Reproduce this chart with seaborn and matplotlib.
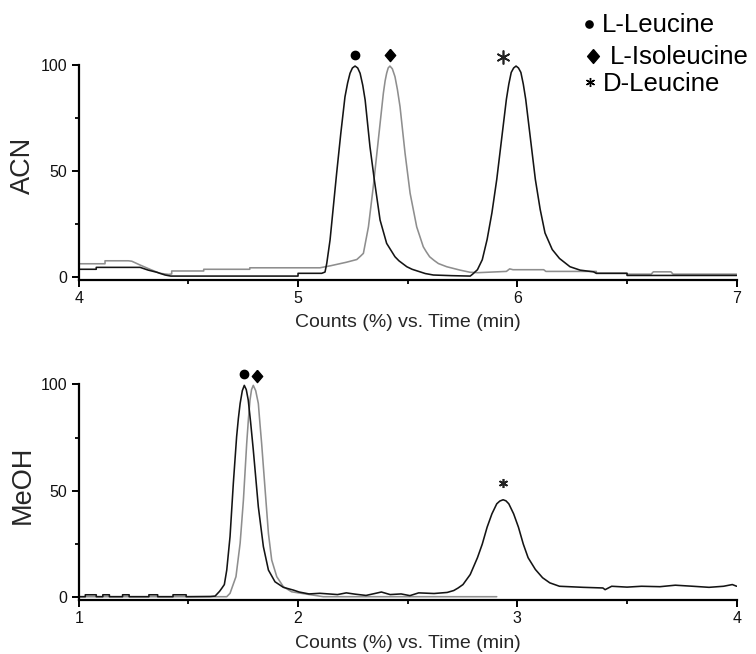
import numpy as np
import pandas as pd
import matplotlib
matplotlib.use("Agg")
import matplotlib.pyplot as plt
from matplotlib.ticker import MultipleLocator
import seaborn as sns

# ---------------- data ----------------
# ACN panel: black trace (L-Leucine + D-Leucine)
acn_black_t = [4.00, 4.08, 4.08, 4.28, 4.317, 4.356, 4.394, 4.42, 5.00, 5.00, 5.108, 5.123,
               5.131, 5.146, 5.161, 5.176, 5.195, 5.214, 5.226, 5.237, 5.248, 5.26, 5.272,
               5.283, 5.295, 5.306, 5.328, 5.348, 5.374, 5.404, 5.442, 5.46, 5.496, 5.52,
               5.556, 5.58, 5.617, 5.70, 5.785, 5.796, 5.818, 5.84, 5.862, 5.884, 5.906,
               5.928, 5.95, 5.961, 5.972, 5.983, 5.994, 6.005, 6.016, 6.027, 6.038, 6.06,
               6.082, 6.104, 6.126, 6.159, 6.192, 6.24, 6.286, 6.347, 6.36, 6.50, 6.50, 7.00]
acn_black_y = [3.8, 3.8, 4.7, 4.7, 3.4, 2.4, 1.1, 0.6, 0.6, 1.9, 1.9, 2.5,
               6.6, 17.6, 33.3, 49.0, 67.8, 85.0, 91.5, 96.1, 98.6, 99.5, 98.6,
               96.1, 90.5, 83.5, 61.5, 45.8, 27.0, 16.0, 9.7, 7.8, 5.0, 3.8,
               2.6, 1.8, 1.1, 0.8, 0.6, 1.5, 3.6, 8.3, 17.8, 30.4, 46.1,
               65.0, 83.9, 91.0, 96.5, 98.6, 99.5, 98.6, 96.5, 91.0, 83.9, 65.0,
               46.1, 32.0, 20.9, 13.1, 8.9, 5.0, 3.4, 2.6, 1.9, 1.9, 0.9, 0.9]

# ACN panel: gray trace (L-Isoleucine)
acn_gray_t = [4.00, 4.12, 4.12, 4.226, 4.242, 4.28, 4.325, 4.37, 4.41, 4.424, 4.424, 4.57,
              4.57, 4.78, 4.78, 5.10, 5.15, 5.22, 5.268, 5.285, 5.298, 5.321, 5.343, 5.366,
              5.389, 5.397, 5.404, 5.411, 5.419, 5.43, 5.442, 5.453, 5.465, 5.488, 5.511,
              5.541, 5.571, 5.585, 5.60, 5.62, 5.64, 5.678, 5.739, 5.784, 5.82, 5.95, 5.965,
              5.98, 6.12, 6.13, 6.36, 6.36, 6.50, 6.50, 6.61, 6.62, 6.70, 6.71, 7.00]
acn_gray_y = [6.4, 6.4, 7.8, 7.8, 7.6, 5.8, 3.8, 1.9, 1.4, 1.6, 3.0, 3.0,
              3.8, 3.8, 4.5, 4.5, 5.5, 7.1, 8.4, 10.0, 11.3, 23.8, 42.7, 64.7,
              86.7, 92.5, 96.1, 98.6, 99.5, 98.2, 94.5, 88.5, 80.4, 58.4, 39.6,
              23.8, 14.4, 12.0, 9.7, 8.0, 6.5, 5.0, 3.4, 2.4, 2.2, 2.8, 4.0,
              3.6, 3.6, 2.8, 2.8, 1.9, 1.9, 1.5, 1.5, 2.6, 2.6, 1.5, 1.5]

# MeOH panel: black trace
meoh_black_t = [1.00, 1.03, 1.03, 1.08, 1.08, 1.11, 1.11, 1.14, 1.14, 1.20, 1.20, 1.23, 1.23,
                1.32, 1.32, 1.36, 1.36, 1.43, 1.43, 1.49, 1.49, 1.60, 1.622, 1.642, 1.652,
                1.664, 1.675, 1.69, 1.705, 1.72, 1.728, 1.736, 1.746, 1.755, 1.764, 1.773,
                1.784, 1.796, 1.819, 1.842, 1.865, 1.895, 1.933, 1.979, 2.005, 2.05, 2.10,
                2.18, 2.22, 2.26, 2.31, 2.35, 2.38, 2.42, 2.47, 2.51, 2.55, 2.62, 2.68, 2.71,
                2.73, 2.752, 2.785, 2.818, 2.84, 2.862, 2.884, 2.906, 2.92, 2.935, 2.948,
                2.961, 2.983, 3.005, 3.027, 3.049, 3.082, 3.115, 3.148, 3.192, 3.30, 3.39,
                3.40, 3.43, 3.50, 3.566, 3.65, 3.72, 3.80, 3.874, 3.94, 3.98, 4.00]
meoh_black_y = [0.3, 0.3, 1.2, 1.2, 0.3, 0.3, 1.2, 1.2, 0.3, 0.3, 1.2, 1.2, 0.3,
                0.3, 1.2, 1.2, 0.3, 0.3, 1.2, 1.2, 0.3, 0.4, 0.6, 2.8, 4.2,
                6.0, 12.8, 28.5, 53.5, 75.4, 84.0, 91.0, 97.0, 99.5, 97.5, 92.6,
                82.0, 69.2, 42.5, 23.8, 12.8, 7.3, 4.7, 3.4, 2.5, 1.6, 1.9,
                1.3, 2.1, 1.5, 0.9, 1.8, 2.5, 1.3, 1.6, 0.8, 2.1, 1.8, 2.3, 3.2,
                4.4, 6.0, 10.7, 18.6, 25.0, 32.9, 39.2, 43.9, 45.2, 45.8, 45.3,
                43.9, 39.2, 32.9, 25.0, 18.6, 13.1, 9.2, 6.8, 5.2, 4.7, 4.4,
                3.6, 5.2, 4.8, 5.2, 5.0, 5.7, 5.2, 4.7, 5.2, 6.0, 5.2]

# MeOH panel: gray trace
meoh_gray_t = [1.00, 1.675, 1.69, 1.717, 1.736, 1.751, 1.766, 1.774, 1.781, 1.788, 1.796,
               1.807, 1.819, 1.826, 1.834, 1.85, 1.865, 1.88, 1.903, 1.933, 1.971, 2.04,
               2.115, 2.906]
meoh_gray_y = [0.3, 0.3, 1.9, 9.7, 25.4, 45.7, 72.3, 84.0, 92.6, 97.5, 99.5,
               97.0, 91.0, 82.0, 72.3, 50.4, 30.0, 17.5, 9.7, 5.0, 2.6, 1.5,
               0.3, 0.3]

# peak labels
acn_mark_t = [5.258, 5.42, 5.936]
acn_mark_y = [104.7, 104.7, 103.9]
meoh_mark_t = [1.755, 1.814, 2.934]
meoh_mark_y = [104.8, 104.0, 53.5]

legend_names = ["L-Leucine", "L-Isoleucine", "D-Leucine"]
panel_names = ["ACN", "MeOH"]
xlabel = "Counts (%) vs. Time (min)"

# ---------------- style ----------------
sns.set_style("ticks")
plt.rcParams["font.family"] = ["Liberation Sans", "DejaVu Sans"]

BLACK = "#141414"
GRAY = "#8e8e8e"
W, H = 756, 654
fig = plt.figure(figsize=(W / 100, H / 100), dpi=100)

def px_axes(left, top, right, bottom):
    return fig.add_axes([left / W, 1 - bottom / H, (right - left) / W, (bottom - top) / H])

ax1 = px_axes(78.7, 65.0, 736.7, 279.9)
ax2 = px_axes(78.7, 384.3, 736.7, 599.9)

diamond = [(0, 1), (0.85, 0), (0, -1), (-0.85, 0), (0, 1)]
asterisk = (6, 2, 0)

panels = [
    (ax1, acn_black_t, acn_black_y, acn_gray_t, acn_gray_y, (4, 7), acn_mark_t, acn_mark_y, 10),
    (ax2, meoh_black_t, meoh_black_y, meoh_gray_t, meoh_gray_y, (1, 4), meoh_mark_t, meoh_mark_y, 6.5),
]

for i, (ax, bt, by, gt, gy, xl, mt, my, ast_size) in enumerate(panels):
    sns.lineplot(x=gt, y=gy, ax=ax, color=GRAY, lw=1.15, estimator=None, sort=False)
    sns.lineplot(x=bt, y=by, ax=ax, color=BLACK, lw=1.15, estimator=None, sort=False)
    for ln in ax.lines:
        ln.set_solid_joinstyle("round")
    ax.set_xlim(*xl)
    ax.set_ylim(-1.2, 100)
    sns.despine(ax=ax)
    for s in ("left", "bottom"):
        ax.spines[s].set_linewidth(1.6)
        ax.spines[s].set_color("black")
    ax.xaxis.set_major_locator(MultipleLocator(1))
    ax.xaxis.set_minor_locator(MultipleLocator(0.5))
    ax.set_yticks([0, 50, 100])
    ax.yaxis.set_minor_locator(MultipleLocator(25))
    ax.tick_params(which="major", direction="out", length=5, width=1.4, color="black",
                   labelsize=11.5, pad=3, labelcolor="#111111")
    ax.tick_params(which="minor", direction="out", length=3, width=1.3, color="black")
    ax.set_xticklabels([f"{int(v)}" for v in ax.get_xticks()])
    ax.set_xlabel(xlabel, fontsize=14, va="center")
    ax.xaxis.set_label_coords(0.5, -0.2)
    ax.set_ylabel(panel_names[i], fontsize=19.5, va="center")
    ax.yaxis.set_label_coords(-0.0847, 0.535)
    # peak markers
    ax.plot([mt[0]], [my[0]], marker="o", ms=6, color="black", ls="none", clip_on=False)
    ax.plot([mt[1]], [my[1]], marker=diamond, ms=8.8, color="black", ls="none", clip_on=False)
    ax.plot([mt[2]], [my[2]], marker=asterisk, ms=ast_size, mew=1.2, color="#222222",
            ls="none", clip_on=False)

# legend drawn as figure-level markers + text
leg_sym = [("o", 5.2, 589, 24.0), (diamond, 10, 593.3, 55.5), (asterisk, 6.5, 590, 81.7)]
leg_text = [(601.7, 31.7), (610.0, 64.0), (603.3, 90.7)]
for (mk, ms, x, y), (tx, ty), name in zip(leg_sym, leg_text, legend_names):
    fig.add_artist(plt.Line2D([x / W], [1 - y / H], marker=mk, ms=ms, mew=1.0,
                              color="black", ls="none", transform=fig.transFigure))
    fig.text(tx / W, 1 - ty / H, name, fontsize=18.5, ha="left", va="baseline", color="black")

fig.savefig("out.png", dpi=100)
